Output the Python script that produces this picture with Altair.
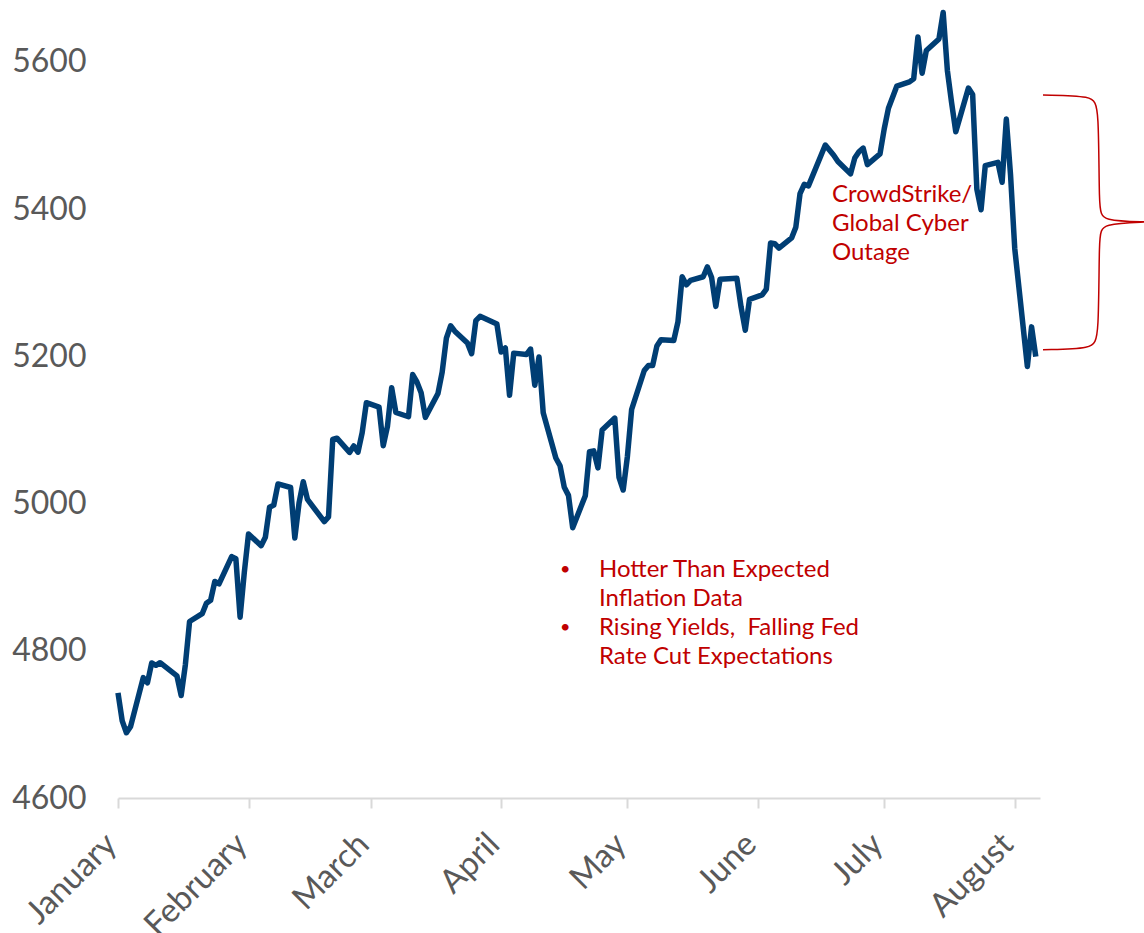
import altair as alt
import pandas as pd

# ---- S&P 500 daily closes, Jan 2 – Aug 7, 2024 ----
trade_dates = [
    # January
    "2024-01-02", "2024-01-03", "2024-01-04", "2024-01-05", "2024-01-08", "2024-01-09",
    "2024-01-10", "2024-01-11", "2024-01-12", "2024-01-16", "2024-01-17", "2024-01-18",
    "2024-01-19", "2024-01-22", "2024-01-23", "2024-01-24", "2024-01-25", "2024-01-26",
    "2024-01-29", "2024-01-30", "2024-01-31",
    # February
    "2024-02-01", "2024-02-02", "2024-02-05", "2024-02-06", "2024-02-07", "2024-02-08",
    "2024-02-09", "2024-02-12", "2024-02-13", "2024-02-14", "2024-02-15", "2024-02-16",
    "2024-02-20", "2024-02-21", "2024-02-22", "2024-02-23", "2024-02-26", "2024-02-27",
    "2024-02-28", "2024-02-29",
    # March
    "2024-03-01", "2024-03-04", "2024-03-05", "2024-03-06", "2024-03-07", "2024-03-08",
    "2024-03-11", "2024-03-12", "2024-03-13", "2024-03-14", "2024-03-15", "2024-03-18",
    "2024-03-19", "2024-03-20", "2024-03-21", "2024-03-22", "2024-03-25", "2024-03-26",
    "2024-03-27", "2024-03-28",
    # April
    "2024-04-01", "2024-04-02", "2024-04-03", "2024-04-04", "2024-04-05", "2024-04-08",
    "2024-04-09", "2024-04-10", "2024-04-11", "2024-04-12", "2024-04-15", "2024-04-16",
    "2024-04-17", "2024-04-18", "2024-04-19", "2024-04-22", "2024-04-23", "2024-04-24",
    "2024-04-25", "2024-04-26", "2024-04-29", "2024-04-30",
    # May
    "2024-05-01", "2024-05-02", "2024-05-03", "2024-05-06", "2024-05-07", "2024-05-08",
    "2024-05-09", "2024-05-10", "2024-05-13", "2024-05-14", "2024-05-15", "2024-05-16",
    "2024-05-17", "2024-05-20", "2024-05-21", "2024-05-22", "2024-05-23", "2024-05-24",
    "2024-05-28", "2024-05-29", "2024-05-30", "2024-05-31",
    # June
    "2024-06-03", "2024-06-04", "2024-06-05", "2024-06-06", "2024-06-07", "2024-06-10",
    "2024-06-11", "2024-06-12", "2024-06-13", "2024-06-14", "2024-06-17", "2024-06-18",
    "2024-06-20", "2024-06-21", "2024-06-24", "2024-06-25", "2024-06-26", "2024-06-27",
    "2024-06-28",
    # July
    "2024-07-01", "2024-07-02", "2024-07-03", "2024-07-05", "2024-07-08", "2024-07-09",
    "2024-07-10", "2024-07-11", "2024-07-12", "2024-07-15", "2024-07-16", "2024-07-17",
    "2024-07-18", "2024-07-19", "2024-07-22", "2024-07-23", "2024-07-24", "2024-07-25",
    "2024-07-26", "2024-07-29", "2024-07-30", "2024-07-31",
    # August
    "2024-08-01", "2024-08-02", "2024-08-05", "2024-08-06", "2024-08-07",
]

closes = [
    # January
    4742.83, 4704.81, 4688.68, 4697.24, 4763.54, 4756.50, 4783.45, 4780.24, 4783.83,
    4765.98, 4739.21, 4780.94, 4839.81, 4850.43, 4864.60, 4868.55, 4894.16, 4890.97,
    4927.93, 4924.97, 4845.65,
    # February
    4906.19, 4958.61, 4942.81, 4954.23, 4995.06, 4997.91, 5026.61, 5021.84, 4953.17,
    5000.62, 5029.73, 5005.57, 4975.51, 4981.80, 5087.03, 5088.80, 5069.53, 5078.18,
    5069.76, 5096.27,
    # March
    5137.08, 5130.95, 5078.65, 5104.76, 5157.36, 5123.69, 5117.94, 5175.27, 5165.31,
    5150.48, 5117.09, 5149.42, 5178.51, 5224.62, 5241.53, 5234.18, 5218.19, 5203.58,
    5248.49, 5254.35,
    # April
    5243.77, 5205.81, 5211.49, 5147.21, 5204.34, 5202.39, 5209.91, 5160.64, 5199.06,
    5123.41, 5061.82, 5051.41, 5022.21, 5011.12, 4967.23, 5010.60, 5070.55, 5071.63,
    5048.42, 5099.96, 5116.17, 5035.69,
    # May
    5018.39, 5064.20, 5127.79, 5180.74, 5187.70, 5187.67, 5214.08, 5222.68, 5221.42,
    5246.68, 5308.15, 5297.10, 5303.27, 5308.13, 5321.41, 5307.01, 5267.84, 5304.72,
    5306.04, 5266.95, 5235.48, 5277.51,
    # June
    5283.40, 5291.34, 5354.03, 5352.96, 5346.99, 5360.79, 5375.32, 5421.03, 5433.74,
    5431.60, 5473.23, 5487.03, 5473.17, 5464.62, 5447.87, 5469.30, 5477.90, 5482.87,
    5460.48,
    # July
    5475.09, 5509.01, 5537.02, 5567.19, 5572.85, 5576.98, 5633.91, 5584.54, 5615.35,
    5631.22, 5667.20, 5588.27, 5544.59, 5505.00, 5564.41, 5555.74, 5427.13, 5399.22,
    5459.10, 5463.54, 5436.44, 5522.30,
    # August
    5446.68, 5346.56, 5186.33, 5240.03, 5199.50,
]

y_ticks = [4600, 4800, 5000, 5200, 5400, 5600]
month_tick_days = [2, 2, 2, 2, 2, 2, 2, 2]  # Jan..Aug, on the 2nd like the source axis

# ---- annotations (in data space) ----
crowd_text = ["CrowdStrike/\nGlobal Cyber\nOutage"]
crowd_date = ["2024-06-19T14:00:00"]
crowd_value = [5419]

note_text = ["Hotter Than Expected\nInflation Data\nRising Yields,\u00a0 Falling Fed\nRate Cut Expectations"]
note_date = ["2024-04-25T06:00:00"]
note_value = [4910]

bullet_dates = ["2024-04-17T05:00:00", "2024-04-17T05:00:00"]
bullet_values = [4910, 4831]

# curly brace "}" spanning the August sell-off
brace_dates = [
    "2024-08-08T17:00:00", "2024-08-20T14:00:00", "2024-08-22T00:00:00",
    "2024-08-22T00:00:00", "2024-08-22T17:00:00", "2024-09-02T17:00:00",
    "2024-09-02T17:00:00", "2024-09-02T17:00:00", "2024-08-22T17:00:00",
    "2024-08-22T00:00:00", "2024-08-22T00:00:00", "2024-08-20T14:00:00",
    "2024-08-08T17:00:00",
]
brace_values = [5555, 5554, 5540, 5399, 5384, 5382.6, 5382.6, 5382.6, 5380, 5366, 5225, 5210, 5209]

# ---- build frames ----
price = pd.DataFrame({"date": [d + "T00:00:00" for d in trade_dates], "close": closes})
brace = pd.DataFrame({"date": brace_dates, "close": brace_values, "order": list(range(len(brace_dates)))})
crowd = pd.DataFrame({"date": crowd_date, "close": crowd_value, "label": crowd_text})
note = pd.DataFrame({"date": note_date, "close": note_value, "label": note_text})
bullets = pd.DataFrame({"date": bullet_dates, "close": bullet_values, "label": ["•", "•"]})

FONT = "Lato"
GRAY = "#595959"
RED = "#c00000"
BLUE = "#003e74"

x_scale = alt.Scale(domain=[alt.DateTime(year=2024, month=1, date=2),
                            alt.DateTime(year=2024, month=8, date=8)])
y_scale = alt.Scale(domain=[4600, 5680], nice=False, zero=False)

x_axis = alt.Axis(
    values=[alt.DateTime(year=2024, month=m + 1, date=d) for m, d in enumerate(month_tick_days)],
    labelExpr="timeFormat(datum.value, '%B')",
    labelAngle=315, labelAlign="right", labelBaseline="alphabetic",
    labelFont=FONT, labelFontSize=33, labelColor=GRAY, labelPadding=38,
    labelOverlap=False, labelBound=False, labelFlush=False,
    domainColor="#d9d9d9", domainWidth=2, tickColor="#d9d9d9", tickWidth=2, tickSize=10,
    grid=False, title=None,
)
y_axis = alt.Axis(
    values=y_ticks, format="d", labelFont=FONT, labelFontSize=32, labelColor=GRAY, labelPadding=32,
    domain=False, ticks=False, grid=False, title=None,
)

X = alt.X("date:T", scale=x_scale, axis=x_axis)
Y = alt.Y("close:Q", scale=y_scale, axis=y_axis)

line = alt.Chart(price).mark_line(color=BLUE, strokeWidth=5.5, strokeJoin="round").encode(x=X, y=Y)

brace_line = alt.Chart(brace).mark_line(color=RED, strokeWidth=1.5, interpolate="basis").encode(
    x="date:T", y="close:Q", order="order:Q")

crowd_txt = alt.Chart(crowd).mark_text(
    font=FONT, fontSize=24, color=RED, align="left", baseline="middle",
    lineBreak="\n", lineHeight=29).encode(x="date:T", y="close:Q", text="label:N")

note_txt = alt.Chart(note).mark_text(
    font=FONT, fontSize=24, color=RED, align="left", baseline="middle",
    lineBreak="\n", lineHeight=29).encode(x="date:T", y="close:Q", text="label:N")

bullet_txt = alt.Chart(bullets).mark_text(
    font=FONT, fontSize=18, color=RED, align="center", baseline="middle").encode(
    x="date:T", y="close:Q", text="label:N")

chart = alt.layer(line, brace_line, crowd_txt, note_txt, bullet_txt).properties(
    width=922, height=795,
    autosize=alt.AutoSizeParams(type="none"),
    padding={"left": 118, "top": 3, "right": 104, "bottom": 135},
    background="white",
).configure_view(stroke=None)

chart.save("out.html", embed_options={"renderer": "svg", "actions": False})
